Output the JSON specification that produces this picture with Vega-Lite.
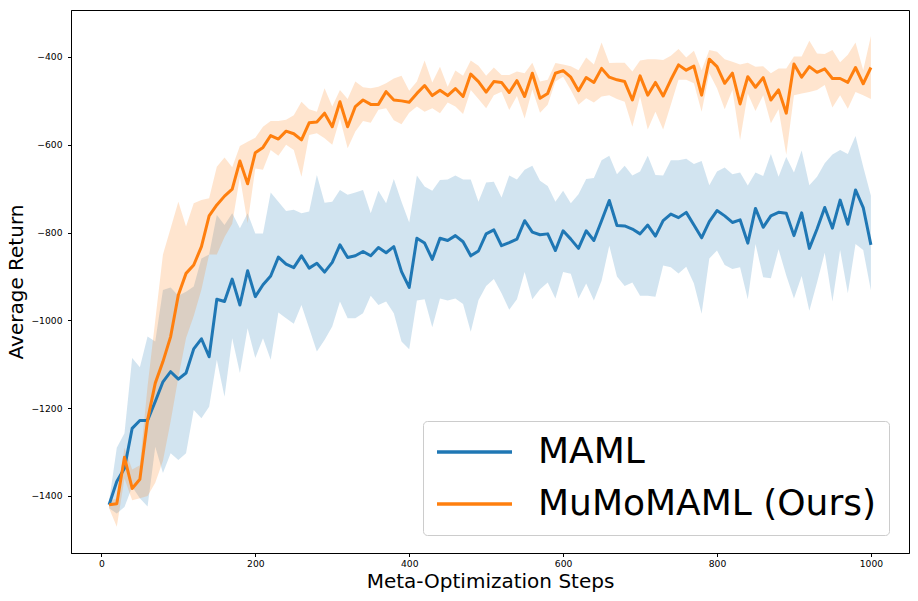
{
"$schema": "https://vega.github.io/schema/vega-lite/v6.json",
"width": 838, "height": 543,
"autosize": {"type": "none"},
"padding": {"left": 71, "top": 10, "right": 9, "bottom": 48},
"config": {
 "font": "DejaVu Sans",
 "view": {"stroke": "#000", "strokeWidth": 1},
 "axis": {"grid": false, "domainColor": "#000", "tickColor": "#000", "labelColor": "#000", "titleColor": "#000", "labelFontSize": 9.2, "titleFontSize": 20, "titleFontWeight": "normal", "tickSize": 3.5, "domainWidth": 1, "tickWidth": 1, "format": "d"}
},
"data": {"values": [
  {"method":"MAML","step":10,"mean":-1420,"lower":-1428,"upper":-1412},
  {"method":"MAML","step":20,"mean":-1367,"lower":-1440,"upper":-1290},
  {"method":"MAML","step":30,"mean":-1337,"lower":-1425,"upper":-1257},
  {"method":"MAML","step":40,"mean":-1246,"lower":-1379,"upper":-1086},
  {"method":"MAML","step":50,"mean":-1228,"lower":-1405,"upper":-1107},
  {"method":"MAML","step":60,"mean":-1228,"lower":-1424,"upper":-1037},
  {"method":"MAML","step":70,"mean":-1185,"lower":-1288,"upper":-1048},
  {"method":"MAML","step":80,"mean":-1140,"lower":-1348,"upper":-931},
  {"method":"MAML","step":90,"mean":-1117,"lower":-1303,"upper":-925},
  {"method":"MAML","step":100,"mean":-1134,"lower":-1318,"upper":-944},
  {"method":"MAML","step":110,"mean":-1120,"lower":-1303,"upper":-935},
  {"method":"MAML","step":120,"mean":-1065,"lower":-1204,"upper":-923},
  {"method":"MAML","step":130,"mean":-1042,"lower":-1223,"upper":-859},
  {"method":"MAML","step":140,"mean":-1083,"lower":-1197,"upper":-850},
  {"method":"MAML","step":150,"mean":-952,"lower":-1090,"upper":-760},
  {"method":"MAML","step":160,"mean":-957,"lower":-1174,"upper":-783},
  {"method":"MAML","step":170,"mean":-906,"lower":-1041,"upper":-756},
  {"method":"MAML","step":180,"mean":-965,"lower":-1120,"upper":-790},
  {"method":"MAML","step":190,"mean":-887,"lower":-1018,"upper":-756},
  {"method":"MAML","step":200,"mean":-946,"lower":-1086,"upper":-802},
  {"method":"MAML","step":210,"mean":-919,"lower":-1041,"upper":-802},
  {"method":"MAML","step":220,"mean":-899,"lower":-1090,"upper":-709},
  {"method":"MAML","step":230,"mean":-856,"lower":-982,"upper":-730},
  {"method":"MAML","step":240,"mean":-872,"lower":-995,"upper":-751},
  {"method":"MAML","step":250,"mean":-880,"lower":-1008,"upper":-748},
  {"method":"MAML","step":260,"mean":-853,"lower":-965,"upper":-756},
  {"method":"MAML","step":270,"mean":-881,"lower":-1018,"upper":-752},
  {"method":"MAML","step":280,"mean":-870,"lower":-1071,"upper":-669},
  {"method":"MAML","step":290,"mean":-890,"lower":-1045,"upper":-732},
  {"method":"MAML","step":300,"mean":-868,"lower":-1014,"upper":-730},
  {"method":"MAML","step":310,"mean":-828,"lower":-957,"upper":-703},
  {"method":"MAML","step":320,"mean":-857,"lower":-995,"upper":-714},
  {"method":"MAML","step":330,"mean":-853,"lower":-995,"upper":-709},
  {"method":"MAML","step":340,"mean":-843,"lower":-984,"upper":-703},
  {"method":"MAML","step":350,"mean":-853,"lower":-944,"upper":-756},
  {"method":"MAML","step":360,"mean":-834,"lower":-965,"upper":-705},
  {"method":"MAML","step":370,"mean":-846,"lower":-957,"upper":-733},
  {"method":"MAML","step":380,"mean":-832,"lower":-984,"upper":-678},
  {"method":"MAML","step":390,"mean":-889,"lower":-1048,"upper":-730},
  {"method":"MAML","step":400,"mean":-925,"lower":-1066,"upper":-777},
  {"method":"MAML","step":410,"mean":-813,"lower":-955,"upper":-670},
  {"method":"MAML","step":420,"mean":-824,"lower":-952,"upper":-695},
  {"method":"MAML","step":430,"mean":-861,"lower":-1016,"upper":-705},
  {"method":"MAML","step":440,"mean":-813,"lower":-950,"upper":-680},
  {"method":"MAML","step":450,"mean":-818,"lower":-955,"upper":-679},
  {"method":"MAML","step":460,"mean":-807,"lower":-950,"upper":-670},
  {"method":"MAML","step":470,"mean":-821,"lower":-963,"upper":-679},
  {"method":"MAML","step":480,"mean":-853,"lower":-1026,"upper":-679},
  {"method":"MAML","step":490,"mean":-842,"lower":-954,"upper":-730},
  {"method":"MAML","step":500,"mean":-803,"lower":-922,"upper":-686},
  {"method":"MAML","step":510,"mean":-794,"lower":-906,"upper":-684},
  {"method":"MAML","step":520,"mean":-830,"lower":-938,"upper":-720},
  {"method":"MAML","step":530,"mean":-823,"lower":-976,"upper":-670},
  {"method":"MAML","step":540,"mean":-815,"lower":-952,"upper":-679},
  {"method":"MAML","step":550,"mean":-773,"lower":-890,"upper":-657},
  {"method":"MAML","step":560,"mean":-799,"lower":-952,"upper":-648},
  {"method":"MAML","step":570,"mean":-805,"lower":-929,"upper":-682},
  {"method":"MAML","step":580,"mean":-803,"lower":-914,"upper":-694},
  {"method":"MAML","step":590,"mean":-841,"lower":-950,"upper":-730},
  {"method":"MAML","step":600,"mean":-796,"lower":-890,"upper":-705},
  {"method":"MAML","step":610,"mean":-815,"lower":-894,"upper":-733},
  {"method":"MAML","step":620,"mean":-836,"lower":-950,"upper":-713},
  {"method":"MAML","step":630,"mean":-796,"lower":-916,"upper":-678},
  {"method":"MAML","step":640,"mean":-818,"lower":-955,"upper":-676},
  {"method":"MAML","step":650,"mean":-773,"lower":-910,"upper":-635},
  {"method":"MAML","step":660,"mean":-727,"lower":-830,"upper":-625},
  {"method":"MAML","step":670,"mean":-784,"lower":-900,"upper":-667},
  {"method":"MAML","step":680,"mean":-785,"lower":-922,"upper":-648},
  {"method":"MAML","step":690,"mean":-792,"lower":-914,"upper":-670},
  {"method":"MAML","step":700,"mean":-803,"lower":-944,"upper":-661},
  {"method":"MAML","step":710,"mean":-783,"lower":-944,"upper":-625},
  {"method":"MAML","step":720,"mean":-808,"lower":-946,"upper":-669},
  {"method":"MAML","step":730,"mean":-773,"lower":-875,"upper":-670},
  {"method":"MAML","step":740,"mean":-758,"lower":-879,"upper":-635},
  {"method":"MAML","step":750,"mean":-766,"lower":-893,"upper":-635},
  {"method":"MAML","step":760,"mean":-754,"lower":-878,"upper":-632},
  {"method":"MAML","step":770,"mean":-783,"lower":-916,"upper":-644},
  {"method":"MAML","step":780,"mean":-812,"lower":-985,"upper":-637},
  {"method":"MAML","step":790,"mean":-775,"lower":-859,"upper":-692},
  {"method":"MAML","step":800,"mean":-750,"lower":-841,"upper":-661},
  {"method":"MAML","step":810,"mean":-762,"lower":-874,"upper":-652},
  {"method":"MAML","step":820,"mean":-777,"lower":-883,"upper":-667},
  {"method":"MAML","step":830,"mean":-771,"lower":-879,"upper":-663},
  {"method":"MAML","step":840,"mean":-824,"lower":-952,"upper":-693},
  {"method":"MAML","step":850,"mean":-745,"lower":-826,"upper":-663},
  {"method":"MAML","step":860,"mean":-788,"lower":-902,"upper":-671},
  {"method":"MAML","step":870,"mean":-762,"lower":-904,"upper":-621},
  {"method":"MAML","step":880,"mean":-754,"lower":-838,"upper":-673},
  {"method":"MAML","step":890,"mean":-756,"lower":-898,"upper":-628},
  {"method":"MAML","step":900,"mean":-807,"lower":-950,"upper":-663},
  {"method":"MAML","step":910,"mean":-755,"lower":-899,"upper":-613},
  {"method":"MAML","step":920,"mean":-836,"lower":-978,"upper":-692},
  {"method":"MAML","step":930,"mean":-792,"lower":-914,"upper":-673},
  {"method":"MAML","step":940,"mean":-743,"lower":-846,"upper":-642},
  {"method":"MAML","step":950,"mean":-790,"lower":-957,"upper":-622},
  {"method":"MAML","step":960,"mean":-726,"lower":-840,"upper":-612},
  {"method":"MAML","step":970,"mean":-781,"lower":-938,"upper":-621},
  {"method":"MAML","step":980,"mean":-703,"lower":-826,"upper":-580},
  {"method":"MAML","step":990,"mean":-743,"lower":-840,"upper":-650},
  {"method":"MAML","step":1000,"mean":-828,"lower":-932,"upper":-716},
  {"method":"MuMoMAML (Ours)","step":10,"mean":-1420,"lower":-1428,"upper":-1412},
  {"method":"MuMoMAML (Ours)","step":20,"mean":-1418,"lower":-1470,"upper":-1405},
  {"method":"MuMoMAML (Ours)","step":30,"mean":-1312,"lower":-1360,"upper":-1290},
  {"method":"MuMoMAML (Ours)","step":40,"mean":-1383,"lower":-1410,"upper":-1340},
  {"method":"MuMoMAML (Ours)","step":50,"mean":-1362,"lower":-1405,"upper":-1330},
  {"method":"MuMoMAML (Ours)","step":60,"mean":-1227,"lower":-1400,"upper":-1150},
  {"method":"MuMoMAML (Ours)","step":70,"mean":-1143,"lower":-1370,"upper":-1000},
  {"method":"MuMoMAML (Ours)","step":80,"mean":-1094,"lower":-1320,"upper":-850},
  {"method":"MuMoMAML (Ours)","step":90,"mean":-1037,"lower":-1230,"upper":-790},
  {"method":"MuMoMAML (Ours)","step":100,"mean":-942,"lower":-1130,"upper":-730},
  {"method":"MuMoMAML (Ours)","step":110,"mean":-893,"lower":-1040,"upper":-786},
  {"method":"MuMoMAML (Ours)","step":120,"mean":-874,"lower":-990,"upper":-733},
  {"method":"MuMoMAML (Ours)","step":130,"mean":-832,"lower":-930,"upper":-726},
  {"method":"MuMoMAML (Ours)","step":140,"mean":-762,"lower":-850,"upper":-722},
  {"method":"MuMoMAML (Ours)","step":150,"mean":-737,"lower":-850,"upper":-650},
  {"method":"MuMoMAML (Ours)","step":160,"mean":-717,"lower":-810,"upper":-629},
  {"method":"MuMoMAML (Ours)","step":170,"mean":-701,"lower":-780,"upper":-651},
  {"method":"MuMoMAML (Ours)","step":180,"mean":-637,"lower":-673,"upper":-603},
  {"method":"MuMoMAML (Ours)","step":190,"mean":-689,"lower":-779,"upper":-593},
  {"method":"MuMoMAML (Ours)","step":200,"mean":-618,"lower":-654,"upper":-584},
  {"method":"MuMoMAML (Ours)","step":210,"mean":-606,"lower":-657,"upper":-559},
  {"method":"MuMoMAML (Ours)","step":220,"mean":-579,"lower":-612,"upper":-546},
  {"method":"MuMoMAML (Ours)","step":230,"mean":-587,"lower":-625,"upper":-546},
  {"method":"MuMoMAML (Ours)","step":240,"mean":-569,"lower":-600,"upper":-543},
  {"method":"MuMoMAML (Ours)","step":250,"mean":-575,"lower":-612,"upper":-533},
  {"method":"MuMoMAML (Ours)","step":260,"mean":-589,"lower":-673,"upper":-502},
  {"method":"MuMoMAML (Ours)","step":270,"mean":-550,"lower":-578,"upper":-519},
  {"method":"MuMoMAML (Ours)","step":280,"mean":-548,"lower":-574,"upper":-525},
  {"method":"MuMoMAML (Ours)","step":290,"mean":-528,"lower":-585,"upper":-471},
  {"method":"MuMoMAML (Ours)","step":300,"mean":-559,"lower":-600,"upper":-513},
  {"method":"MuMoMAML (Ours)","step":310,"mean":-502,"lower":-540,"upper":-475},
  {"method":"MuMoMAML (Ours)","step":320,"mean":-559,"lower":-608,"upper":-496},
  {"method":"MuMoMAML (Ours)","step":330,"mean":-513,"lower":-570,"upper":-456},
  {"method":"MuMoMAML (Ours)","step":340,"mean":-498,"lower":-546,"upper":-469},
  {"method":"MuMoMAML (Ours)","step":350,"mean":-508,"lower":-550,"upper":-471},
  {"method":"MuMoMAML (Ours)","step":360,"mean":-508,"lower":-520,"upper":-468},
  {"method":"MuMoMAML (Ours)","step":370,"mean":-479,"lower":-517,"upper":-460},
  {"method":"MuMoMAML (Ours)","step":380,"mean":-498,"lower":-544,"upper":-449},
  {"method":"MuMoMAML (Ours)","step":390,"mean":-500,"lower":-553,"upper":-443},
  {"method":"MuMoMAML (Ours)","step":400,"mean":-503,"lower":-527,"upper":-477},
  {"method":"MuMoMAML (Ours)","step":410,"mean":-483,"lower":-513,"upper":-456},
  {"method":"MuMoMAML (Ours)","step":420,"mean":-465,"lower":-525,"upper":-408},
  {"method":"MuMoMAML (Ours)","step":430,"mean":-488,"lower":-517,"upper":-458},
  {"method":"MuMoMAML (Ours)","step":440,"mean":-476,"lower":-528,"upper":-422},
  {"method":"MuMoMAML (Ours)","step":450,"mean":-488,"lower":-504,"upper":-468},
  {"method":"MuMoMAML (Ours)","step":460,"mean":-472,"lower":-513,"upper":-431},
  {"method":"MuMoMAML (Ours)","step":470,"mean":-490,"lower":-530,"upper":-443},
  {"method":"MuMoMAML (Ours)","step":480,"mean":-439,"lower":-475,"upper":-408},
  {"method":"MuMoMAML (Ours)","step":490,"mean":-456,"lower":-496,"upper":-420},
  {"method":"MuMoMAML (Ours)","step":500,"mean":-480,"lower":-517,"upper":-443},
  {"method":"MuMoMAML (Ours)","step":510,"mean":-456,"lower":-487,"upper":-424},
  {"method":"MuMoMAML (Ours)","step":520,"mean":-458,"lower":-479,"upper":-441},
  {"method":"MuMoMAML (Ours)","step":530,"mean":-481,"lower":-521,"upper":-441},
  {"method":"MuMoMAML (Ours)","step":540,"mean":-454,"lower":-489,"upper":-433},
  {"method":"MuMoMAML (Ours)","step":550,"mean":-490,"lower":-540,"upper":-437},
  {"method":"MuMoMAML (Ours)","step":560,"mean":-437,"lower":-474,"upper":-413},
  {"method":"MuMoMAML (Ours)","step":570,"mean":-494,"lower":-527,"upper":-456},
  {"method":"MuMoMAML (Ours)","step":580,"mean":-483,"lower":-509,"upper":-452},
  {"method":"MuMoMAML (Ours)","step":590,"mean":-437,"lower":-456,"upper":-414},
  {"method":"MuMoMAML (Ours)","step":600,"mean":-431,"lower":-445,"upper":-417},
  {"method":"MuMoMAML (Ours)","step":610,"mean":-446,"lower":-475,"upper":-421},
  {"method":"MuMoMAML (Ours)","step":620,"mean":-477,"lower":-509,"upper":-430},
  {"method":"MuMoMAML (Ours)","step":630,"mean":-447,"lower":-494,"upper":-401},
  {"method":"MuMoMAML (Ours)","step":640,"mean":-458,"lower":-504,"upper":-417},
  {"method":"MuMoMAML (Ours)","step":650,"mean":-426,"lower":-490,"upper":-367},
  {"method":"MuMoMAML (Ours)","step":660,"mean":-446,"lower":-487,"upper":-414},
  {"method":"MuMoMAML (Ours)","step":670,"mean":-452,"lower":-496,"upper":-413},
  {"method":"MuMoMAML (Ours)","step":680,"mean":-456,"lower":-502,"upper":-413},
  {"method":"MuMoMAML (Ours)","step":690,"mean":-498,"lower":-559,"upper":-433},
  {"method":"MuMoMAML (Ours)","step":700,"mean":-443,"lower":-490,"upper":-408},
  {"method":"MuMoMAML (Ours)","step":710,"mean":-487,"lower":-565,"upper":-405},
  {"method":"MuMoMAML (Ours)","step":720,"mean":-458,"lower":-525,"upper":-405},
  {"method":"MuMoMAML (Ours)","step":730,"mean":-489,"lower":-565,"upper":-407},
  {"method":"MuMoMAML (Ours)","step":740,"mean":-452,"lower":-509,"upper":-397},
  {"method":"MuMoMAML (Ours)","step":750,"mean":-418,"lower":-452,"upper":-382},
  {"method":"MuMoMAML (Ours)","step":760,"mean":-430,"lower":-452,"upper":-401},
  {"method":"MuMoMAML (Ours)","step":770,"mean":-421,"lower":-460,"upper":-386},
  {"method":"MuMoMAML (Ours)","step":780,"mean":-487,"lower":-525,"upper":-430},
  {"method":"MuMoMAML (Ours)","step":790,"mean":-405,"lower":-437,"upper":-384},
  {"method":"MuMoMAML (Ours)","step":800,"mean":-422,"lower":-471,"upper":-388},
  {"method":"MuMoMAML (Ours)","step":810,"mean":-460,"lower":-519,"upper":-405},
  {"method":"MuMoMAML (Ours)","step":820,"mean":-437,"lower":-475,"upper":-411},
  {"method":"MuMoMAML (Ours)","step":830,"mean":-507,"lower":-589,"upper":-417},
  {"method":"MuMoMAML (Ours)","step":840,"mean":-445,"lower":-483,"upper":-413},
  {"method":"MuMoMAML (Ours)","step":850,"mean":-469,"lower":-523,"upper":-422},
  {"method":"MuMoMAML (Ours)","step":860,"mean":-447,"lower":-487,"upper":-421},
  {"method":"MuMoMAML (Ours)","step":870,"mean":-498,"lower":-551,"upper":-437},
  {"method":"MuMoMAML (Ours)","step":880,"mean":-475,"lower":-519,"upper":-426},
  {"method":"MuMoMAML (Ours)","step":890,"mean":-528,"lower":-623,"upper":-426},
  {"method":"MuMoMAML (Ours)","step":900,"mean":-416,"lower":-487,"upper":-399},
  {"method":"MuMoMAML (Ours)","step":910,"mean":-446,"lower":-483,"upper":-399},
  {"method":"MuMoMAML (Ours)","step":920,"mean":-422,"lower":-480,"upper":-363},
  {"method":"MuMoMAML (Ours)","step":930,"mean":-435,"lower":-475,"upper":-392},
  {"method":"MuMoMAML (Ours)","step":940,"mean":-427,"lower":-464,"upper":-393},
  {"method":"MuMoMAML (Ours)","step":950,"mean":-449,"lower":-515,"upper":-384},
  {"method":"MuMoMAML (Ours)","step":960,"mean":-449,"lower":-487,"upper":-412},
  {"method":"MuMoMAML (Ours)","step":970,"mean":-458,"lower":-518,"upper":-395},
  {"method":"MuMoMAML (Ours)","step":980,"mean":-424,"lower":-480,"upper":-367},
  {"method":"MuMoMAML (Ours)","step":990,"mean":-461,"lower":-487,"upper":-430},
  {"method":"MuMoMAML (Ours)","step":1000,"mean":-424,"lower":-496,"upper":-352}
]},
"encoding": {
 "x": {"field": "step", "type": "quantitative", "scale": {"domain": [-39.5, 1049.5], "nice": false, "zero": false}, "axis": {"values": [0, 200, 400, 600, 800, 1000], "title": "Meta-Optimization Steps", "labelPadding": 3, "titlePadding": 3}},
 "color": {"field": "method", "type": "nominal", "scale": {"domain": ["MAML", "MuMoMAML (Ours)"], "range": ["#1f77b4", "#ff7f0e"]},
  "legend": {"title": null, "orient": "none", "legendX": 352, "legendY": 411, "direction": "vertical", "symbolType": "stroke", "symbolSize": 5625, "symbolStrokeWidth": 3.5, "symbolOpacity": 1, "clipHeight": 38, "labelFontSize": 36, "labelColor": "#000", "labelOffset": 24, "padding": 12, "rowPadding": 14, "strokeColor": "#cccccc", "fillColor": "rgba(255,255,255,0.8)", "cornerRadius": 4, "labelLimit": 600}}
},
"layer": [
 {
  "mark": {"type": "area", "opacity": 0.2},
  "encoding": {
   "y": {"field": "lower", "type": "quantitative", "scale": {"domain": [-1530, -293], "nice": false, "zero": false}, "axis": {"values": [-1400, -1200, -1000, -800, -600, -400], "title": "Average Return", "labelPadding": 5.5, "titlePadding": 4}},
   "y2": {"field": "upper"}
  }
 },
 {
  "mark": {"type": "line", "strokeWidth": 3, "strokeJoin": "round"},
  "encoding": {
   "y": {"field": "mean", "type": "quantitative"}
  }
 }
]
}
